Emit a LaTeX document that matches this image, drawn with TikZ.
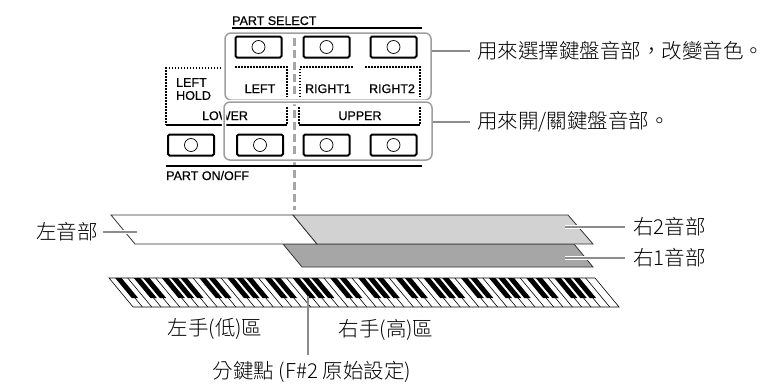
\documentclass[tikz,border=0pt]{standalone}
\usepackage{fontspec}
\setmainfont{Liberation Sans}[FakeBold=0.6]
\newfontfamily\cjk{Noto Sans CJK TC Light}
\tikzset{
  btn/.style={draw, line width=2pt, rounded corners=1.5pt, fill=white, inner sep=0pt, minimum width=46pt, minimum height=21pt},
  grp/.style={draw=gray!75, line width=1.5pt, rounded corners=6pt, inner sep=0pt, preaction={draw=white, line width=4.5pt}},
  brk/.style={line width=1.3pt, dash pattern=on 1.5pt off 1.5pt},
  panel/.style={font=\fontsize{12.5}{13}\selectfont, inner sep=0pt},
  cjknote/.style={font={\cjk\fontsize{20.5}{24}\selectfont}, inner sep=2pt},
  noteline/.style={draw=gray!90, line width=1.5pt},
  cased/.style={noteline, preaction={draw=white, line width=4.5pt}},
  band/.style={draw=black!80, line width=0.8pt},
  keyline/.style={line width=0.6pt},
  zoneline/.style={draw=gray!70, line width=3pt, dash pattern=on 8pt off 4pt},
}
\begin{document}
\begin{tikzpicture}[x=1pt, y=-1pt]
\useasboundingbox (0,0) rectangle (773,383);
% split marker on the panel
\coordinate (cuttop) at (294,38);
\coordinate (cutbot) at (294,210);
\draw[zoneline] (cuttop) -- (cutbot);

% panel texts
\node[panel, anchor=base west] (partsel) at (232,25) {PART SELECT};
\draw[line width=1.2pt] (232,28) -- (422,28);
\node[panel, anchor=north west, align=left] (lhold) at (176,78) {LEFT\\HOLD};
\node[panel, anchor=base] (lower) at (225,120) {LOWER};
\node[panel, anchor=base] (upper) at (360,120) {UPPER};
\node[panel, anchor=base] (leftl) at (260,93) {LEFT};
\node[panel, anchor=base] (right1) at (328,93) {RIGHT1};
\node[panel, anchor=base] (right2) at (392,93) {RIGHT2};
\node[panel, anchor=base west] (parton) at (166,180) {PART ON/OFF};
\draw[line width=1.2pt] (166,166) -- (422,166);

% brackets
\draw[brk] (221,68) -- (166,68) -- (166,125);
\draw[brk] (235,67) -- (287,67) -- (287,97);
\draw[brk] (300,97) -- (300,67) -- (353,67);
\draw[brk] (365,67) -- (420,67) -- (420,97);
\draw[brk] (287,107) -- (287,124);
\draw[brk] (299,107) -- (299,124);
\draw[brk] (420,107) -- (420,124);
\draw[line width=1.2pt] (166,125) -- (287,125);
\draw[line width=1.2pt] (299,125) -- (420,125);

% groups
\node[grp, minimum width=206pt, minimum height=67pt] (selbox) at (328,66.5) {};
\node[grp, minimum width=208pt, minimum height=58pt] (onbox) at (328,131) {};

% buttons
\node[btn] (sel1) at (258.5,47) {};
\node[btn] (sel2) at (326.5,47) {};
\node[btn] (sel3) at (393.5,47) {};
\node[btn] (on1) at (191,145) {};
\node[btn] (on2) at (260,145) {};
\node[btn] (on3) at (326.5,145) {};
\node[btn] (on4) at (393.5,145) {};
\foreach \b in {sel1,sel2,sel3,on1,on2,on3,on4}
  \draw[line width=0.7pt] (\b) circle (6.5pt);

\node[cjknote, anchor=west] (selnote) at (475,51) {用來選擇鍵盤音部，改變音色。};
\draw[noteline, shorten >=5pt] (selbox.east |- selnote) -- (selnote.west);
\node[cjknote, anchor=west] (onnote) at (475,122) {用來開/關鍵盤音部。};
\draw[noteline, shorten >=5pt] (onbox.east |- onnote) -- (onnote.west);

% voice bands
\draw[band, fill=gray!70] (283,244) -- (574,244) -- (593,267) -- (302,267) -- cycle;
\draw[band, fill=white] (111,215) -- (293,215) -- (317,244) -- (135,244) -- cycle;
\draw[band, fill=gray!35] (293,215) -- (568,215) -- (593,244) -- (317,244) -- cycle;

\coordinate (lefttip) at (137,232);
\node[cjknote, anchor=east] (leftnote) at (100,232) {左音部};
\draw[cased, shorten <=3pt] (leftnote.east) -- (lefttip);
\coordinate (r2tip) at (565,227);
\node[cjknote, anchor=west] (r2note) at (631,227) {右2音部};
\draw[cased, shorten >=6pt] (r2tip) -- (r2note.west);
\coordinate (r1tip) at (565,258);
\node[cjknote, anchor=west] (r1note) at (631,258) {右1音部};
\draw[cased, shorten >=6pt] (r1tip) -- (r1note.west);

% keyboard
\begin{scope}[shift={(109,278)}, xslant=-0.83]
  \draw[keyline] (0,0) rectangle (486,29);
  \foreach \i in {1,...,51}
    \draw[keyline] (\i*9.346,0) -- (\i*9.346,29);
  \foreach \i in {0,...,50}{
    \pgfmathtruncatemacro\kk{mod(\i+5,7)}
    \ifnum\kk=2 \else\ifnum\kk=6 \else
      \fill ({(\i+1)*9.346-3.2},0) rectangle ++(6.4,20);
    \fi\fi}
\end{scope}

\node[cjknote] (lowzone) at (215,329) {左手(低)區};
\node[cjknote] (highzone) at (386,330) {右手(高)區};
\node[cjknote] (splitnote) at (312,372) {分鍵點 (F\#2 原始設定)};
\coordinate (splitkey) at (308,296);
\draw[noteline, shorten >=4pt] (splitkey) -- (splitkey |- splitnote.north);
\end{tikzpicture}
\end{document}
